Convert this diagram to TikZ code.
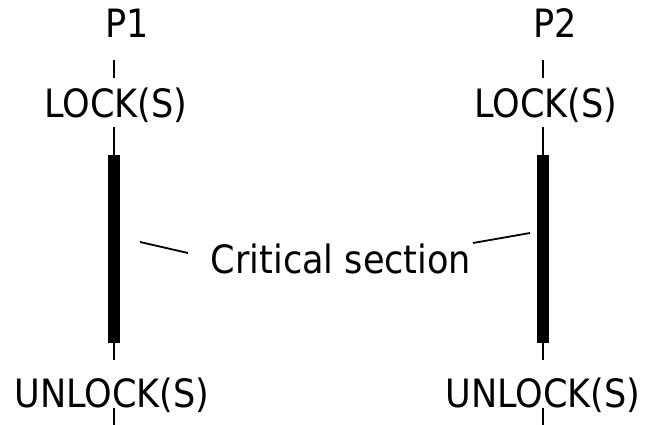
\documentclass[tikz,border=0pt]{standalone}
\usepackage{fontspec}
\setmainfont{DejaVu Sans Condensed}
\begin{document}
\begin{tikzpicture}[x=1pt,y=-1pt,
  lbl/.style={anchor=base,inner sep=0pt,font=\fontsize{39}{46}\selectfont},
  thin/.style={line width=1.8pt,black},
  bar/.style={line width=12pt,black}]
\useasboundingbox (0,0) rectangle (646,425);
% P1
\node[lbl] (p1) at (127,38) {P1};
\node[lbl] (lock1) at (116,118) {LOCK(S)};
\node[lbl] (unlock1) at (112,407) {UNLOCK(S)};
\coordinate (a1) at (114,60); \coordinate (b1) at (114,78);
\coordinate (c1) at (114,127); \coordinate (d1) at (114,155);
\coordinate (e1) at (114,343); \coordinate (f1) at (114,360);
\coordinate (g1) at (114,408); \coordinate (h1) at (114,425);
\draw[thin] (a1) -- (b1);
\draw[thin] (c1) -- (d1);
\draw[bar] (d1) -- (e1);
\draw[thin] (e1) -- (f1);
\draw[thin] (g1) -- (h1);
% P2
\node[lbl] (p2) at (555,38) {P2};
\node[lbl] (lock2) at (546,118) {LOCK(S)};
\node[lbl] (unlock2) at (543,407) {UNLOCK(S)};
\coordinate (a2) at (543,60); \coordinate (b2) at (543,78);
\coordinate (c2) at (543,127); \coordinate (d2) at (543,155);
\coordinate (e2) at (543,343); \coordinate (f2) at (543,360);
\coordinate (g2) at (543,408); \coordinate (h2) at (543,425);
\draw[thin] (a2) -- (b2);
\draw[thin] (c2) -- (d2);
\draw[bar] (d2) -- (e2);
\draw[thin] (e2) -- (f2);
\draw[thin] (g2) -- (h2);
% critical section
\node[lbl] (cs) at (341,273) {Critical section};
\coordinate (l1) at (140,242); \coordinate (l2) at (188,253);
\coordinate (r1) at (473,243); \coordinate (r2) at (530,233);
\draw[thin] (l1) -- (l2);
\draw[thin] (r1) -- (r2);
\end{tikzpicture}
\end{document}
